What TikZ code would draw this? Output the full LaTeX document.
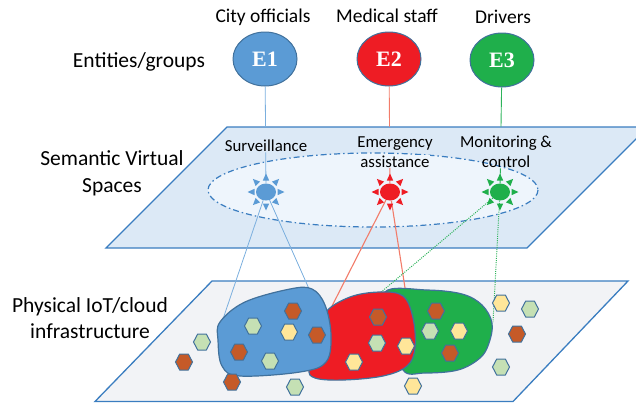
\documentclass[tikz,border=0pt]{standalone}
\usepackage{fontspec}
\setmainfont{Carlito}
\newfontfamily\entfont{Liberation Serif}
\usetikzlibrary{shapes.geometric}
\definecolor{eblue}{HTML}{5B9BD5}
\definecolor{ered}{HTML}{EE1C24}
\definecolor{egreen}{HTML}{1FAF4B}
\definecolor{edgec}{HTML}{41719C}
\definecolor{planeblue}{HTML}{DCE9F6}
\definecolor{planegray}{HTML}{F2F3F6}
\definecolor{planeedge}{HTML}{3A7DC0}
\definecolor{ellfill}{HTML}{EEF5FC}
\definecolor{hbrown}{HTML}{C55A28}
\definecolor{hgreen}{HTML}{C5E0B4}
\definecolor{hyellow}{HTML}{FFE699}
\definecolor{lblue}{HTML}{7BAFDE}
\definecolor{lred}{HTML}{F27C6A}
\definecolor{lgreen}{HTML}{2DB35A}
\newcommand\fsz[1]{\fontsize{#1}{#1}\selectfont}
\tikzset{
  plane/.style={draw=planeedge, line width=1.3pt},
  ent/.style={ellipse, draw=edgec, line width=1pt, minimum width=64pt, minimum height=54pt, inner sep=0pt, text=white, font=\entfont\bfseries\fsz{22}},
  biglabel/.style={anchor=base, inner sep=0pt, font=\fsz{21.5}},
  toplabel/.style={anchor=base, inner sep=0pt, font=\fsz{19.5}},
  splabel/.style={anchor=base, inner sep=1pt, font=\fsz{16.8}},
  sunbody/.style={ellipse, minimum width=20pt, minimum height=17pt, inner sep=0pt},
  blob/.style={draw=edgec, line width=1.2pt},
  bline/.style={draw=lblue, line width=0.8pt},
  rline/.style={draw=lred, line width=1.1pt},
  gline/.style={draw=lgreen, line width=0.9pt},
  gdots/.style={draw=lgreen, line width=1pt, dash pattern=on 1pt off 1.2pt},
  pics/hexa/.style={code={\draw[line width=1pt, draw=edgec, fill=#1] (-8.5,0)--(-4.3,-8)--(4.3,-8)--(8.5,0)--(4.3,8)--(-4.3,8)--cycle;}},
  pics/rays/.style={code={\foreach \a in {0,45,...,315}{\fill[#1, rotate=\a] (11.5,-3.2) -- (18.5,0) -- (11.5,3.2) -- cycle;}}}
}
\begin{document}
\begin{tikzpicture}[x=1pt,y=-1pt]
\useasboundingbox (0,0) rectangle (636,407);
\clip (0,0) rectangle (636,407);
% planes
\draw[plane, fill=planeblue] (227,127) -- (648,127) -- (527,248) -- (106,248) -- cycle;
\draw[plane, fill=planegray] (212,281) -- (628,281) -- (513,401.5) -- (95,401.5) -- cycle;
\draw[draw=planeedge, line width=1.2pt, fill=ellfill, dash pattern=on 6pt off 3pt on 1.5pt off 3pt] (373,190) ellipse [x radius=165, y radius=37];
% left labels
\node[biglabel] (lent) at (139,67) {Entities/groups};
\node[biglabel] (lsem1) at (112,165) {Semantic Virtual};
\node[biglabel] (lsem2) at (112,192) {Spaces};
\node[biglabel] (lphy1) at (90,312) {Physical IoT/cloud};
\node[biglabel] (lphy2) at (90,338) {infrastructure};
% group labels
\node[toplabel] (lcity) at (263,22) {City officials};
\node[toplabel] (lmed) at (387,22) {Medical staff};
\node[toplabel] (ldrv) at (503,23.5) {Drivers};
% space labels
\node[splabel] (lsurv) at (266,151) {Surveillance};
\node[splabel] (lem1) at (395,147) {Emergency};
\node[splabel, fill=ellfill, inner sep=0.5pt] (lem2) at (395,167) {assistance};
\node[splabel] (lmon1) at (506,147) {Monitoring \&};
\node[splabel] (lmon2) at (506,167) {control};
% entity nodes
\node[ent, fill=eblue] (E1) at (265,59) {E1};
\node[ent, fill=ered] (E2) at (389,59) {E2};
\node[ent, fill=egreen] (E3) at (502,60) {E3};
% sun nodes
\node[sunbody] (S1) at (266,192) {};
\node[sunbody] (S2) at (390,192) {};
\node[sunbody] (S3) at (500,192) {};
% blob anchor points
\coordinate (b1) at (223,319);
\coordinate (b2) at (310,291);
\coordinate (r1) at (330,310);
\coordinate (r2) at (408,307);
\coordinate (r3) at (380,293);
\coordinate (g1) at (493,322);
% entity -> space connectors (hidden from the plane's top edge to below the labels)
\begin{scope}[even odd rule]
\clip (0,0) rectangle (636,407)
  (262,126.5) rectangle ([xshift=4pt]lsurv.south)
  (385,126.5) rectangle ([xshift=5pt]lem2.south)
  (496,126.5) rectangle (lmon2.south);
\draw[bline] (E1) -- (S1);
\draw[rline, line width=0.9pt] (E2) -- (S2);
\draw[gline] (E3) -- (S3);
\end{scope}
% space -> infrastructure connectors
\draw[bline] (S1) -- (b1);
\draw[bline] (S1) -- (b2);
\draw[rline] (S2) -- (r1);
\draw[rline] (S2) -- (r2);
\draw[gdots] (S3) -- (r3);
\draw[gdots] (S3) -- (g1);
% suns
\fill[eblue] (S1.center) ellipse [x radius=10, y radius=8.5];
\fill[ered] (S2.center) ellipse [x radius=10, y radius=8.5];
\fill[egreen] (S3.center) ellipse [x radius=10, y radius=8.5];
\pic at (S1) {rays=eblue};
\pic at (S2) {rays=ered};
\pic at (S3) {rays=egreen};
% blobs: green, red, blue (top)
\draw[blob, fill=egreen] plot[smooth cycle, tension=0.6] coordinates {(385,292) (427,290) (462,294) (482,305) (492,323) (489,343) (480,358) (458,370) (425,373) (403,370) (395,330)};
\draw[blob, fill=ered] plot[smooth cycle, tension=0.6] coordinates {(325,313) (350,297) (380,292) (403,296) (413,318) (415,348) (407,366) (383,376) (343,380) (315,378) (309,368) (318,340)};
\draw[blob, fill=eblue] plot[smooth cycle, tension=0.6] coordinates {(220,322) (245,302) (290,289) (312,289) (325,305) (331,335) (326,362) (300,372) (240,376) (222,366) (218,340)};
% hexagons
\pic at (293,311) {hexa=hbrown};
\pic at (253,326) {hexa=hgreen};
\pic at (289,332) {hexa=hyellow};
\pic at (317,335) {hexa=hbrown};
\pic at (239,352) {hexa=hbrown};
\pic at (270,361) {hexa=hgreen};
\pic at (202,342) {hexa=hgreen};
\pic at (184,362) {hexa=hbrown};
\pic at (232,382) {hexa=hbrown};
\pic at (295,387) {hexa=hgreen};
\pic at (378,317) {hexa=hbrown};
\pic at (377,343) {hexa=hgreen};
\pic at (354,362) {hexa=hyellow};
\pic at (406,346) {hexa=hyellow};
\pic at (436,311) {hexa=hbrown};
\pic at (430,331) {hexa=hgreen};
\pic at (459,331) {hexa=hyellow};
\pic at (450,353) {hexa=hbrown};
\pic at (501,303) {hexa=hyellow};
\pic at (530,309) {hexa=hgreen};
\pic at (517,334) {hexa=hbrown};
\pic at (501,367) {hexa=hgreen};
\pic at (413,386) {hexa=hyellow};
\end{tikzpicture}
\end{document}
